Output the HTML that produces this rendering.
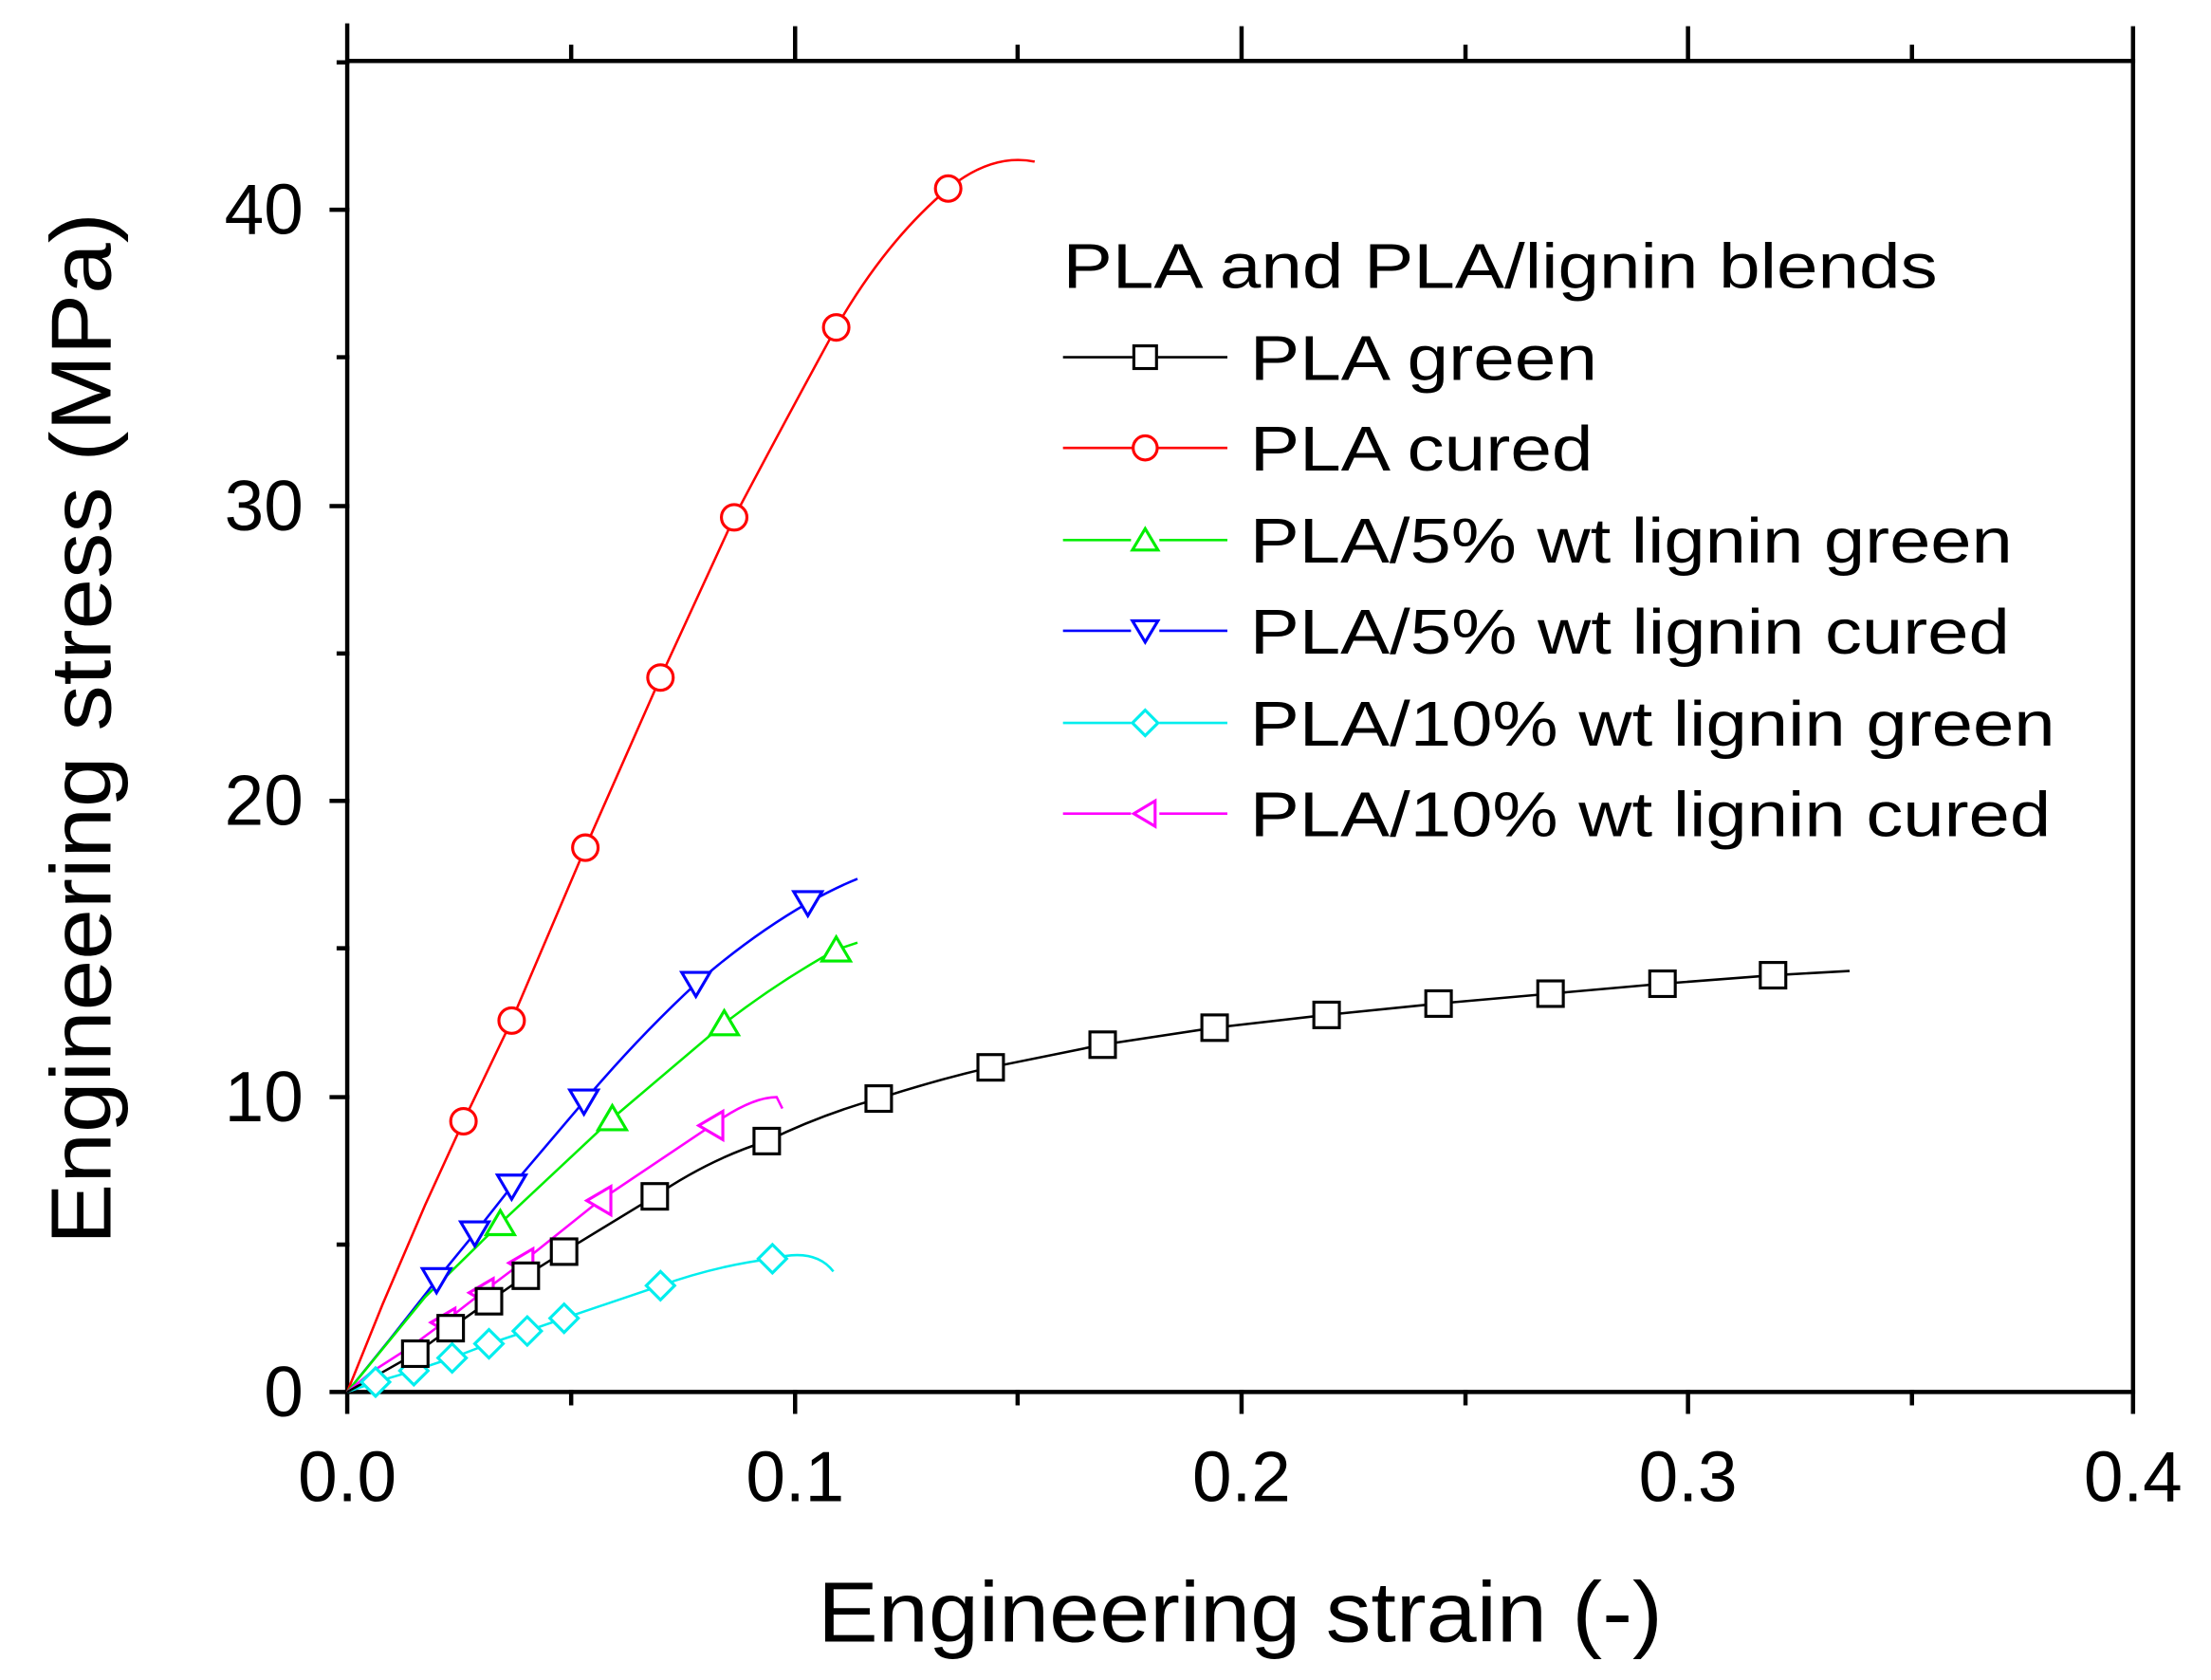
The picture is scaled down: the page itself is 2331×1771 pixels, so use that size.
<!DOCTYPE html>
<html><head><meta charset="utf-8"><style>html,body{margin:0;padding:0;background:#fff}svg{display:block}</style></head>
<body>
<svg xmlns="http://www.w3.org/2000/svg" width="2331" height="1771" viewBox="0 0 1560 1185.2" preserveAspectRatio="none" font-family="Liberation Sans, Arial, sans-serif">
<rect width="1560" height="1186" fill="#fff"/>
<g stroke="#000" stroke-width="3" fill="none" stroke-linecap="square">
<path d="M245,18 V982 H1505 V43 H245"/>
<path d="M234,982 H245 M234,774 H245 M234,565 H245 M234,357 H245 M234,148 H245 M239,878 H245 M239,669 H245 M239,461 H245 M239,252 H245 M239,44 H245"/>
<path d="M245,982 V996 M561,982 V996 M876,982 V996 M1191,982 V996 M1505,982 V996 M403,982 V990 M718,982 V990 M1034,982 V990 M1349,982 V990"/>
<path d="M561,43 V20 M876,43 V20 M1191,43 V20 M1505,43 V20 M403,43 V33 M718,43 V33 M1034,43 V33 M1349,43 V33"/>
</g>
<g font-size="50" text-anchor="end">
<text x="214" y="999">0</text><text x="214" y="791">10</text><text x="214" y="582">20</text><text x="214" y="374">30</text><text x="214" y="165">40</text>
</g>
<g font-size="50" text-anchor="middle">
<text x="245" y="1059">0.0</text><text x="561" y="1059">0.1</text><text x="876" y="1059">0.2</text><text x="1191" y="1059">0.3</text><text x="1505" y="1059">0.4</text>
</g>
<text x="577" y="1158" font-size="60" textLength="596" lengthAdjust="spacingAndGlyphs">Engineering strain (-)</text>
<text transform="translate(78,878) rotate(-90)" font-size="60" textLength="728" lengthAdjust="spacingAndGlyphs">Engineering stress (MPa)</text>

<g fill="none" stroke-width="1.7">
<path stroke="#f00" d="M245,982 L270,920 L300,850 L327,791 L361,720 L413,598 L466,478 L518,365 Q555,295 590,231 Q625,170 669,133 Q700,108 730,114"/>
<path stroke="#00f" d="M245,982 L275,945 L308,903 L335,870 L361,837 L412,777 Q450,732 491,694 Q530,660 570,637 Q590,626 605,620"/>
<path stroke="#0e0" d="M245,982 L300,915 L353,863 L432,789 L511,722 Q550,692 590,670 L605,665"/>
<path stroke="#f0f" d="M245,982 L262,968 L290,950 L313,933 L340,912 L368,891 L423,847 L502,794 Q530,774 548,774 L552,782"/>
<path stroke="#0ee" d="M245,982 L265,975 L292,967 L319,958 L345,948 L372,939 L398,930 L466,907 Q505,893 545,888 Q575,880 588,897"/>
<path stroke="#000" d="M245,982 L270,968 L293,955 L318,937 L345,918 L371,900 L398,883 L462,844 Q500,818 541,805 Q580,786 620,775 Q660,762 699,753 L778,737 L857,725 L936,716 L1015,708 L1094,701 L1173,694 L1251,688 L1305,685"/>
</g>
<g fill="#fff" stroke-width="2.1">
<g stroke="#f00">
<circle cx="327" cy="791" r="9"/><circle cx="361" cy="720" r="9"/><circle cx="413" cy="598" r="9"/><circle cx="466" cy="478" r="9"/><circle cx="518" cy="365" r="9"/><circle cx="590" cy="231" r="9"/><circle cx="669" cy="133" r="9"/>
</g>
<g stroke="#00f">
<path d="M298,895 h20 l-10,17 z M325,862 h20 l-10,17 z M351,829 h20 l-10,17 z M402,769 h20 l-10,17 z M481,686 h20 l-10,17 z M560,629 h20 l-10,17 z"/>
</g>
<g stroke="#0e0">
<path d="M343,871 h20 l-10,-17 z M422,797 h20 l-10,-17 z M501,730 h20 l-10,-17 z M580,678 h20 l-10,-17 z"/>
</g>
<g stroke="#f0f">
<path d="M304,933 l17,-10 v20 z M331,912 l17,-10 v20 z M359,891 l17,-10 v20 z M414,847 l17,-10 v20 z M493,794 l17,-10 v20 z"/>
</g>
<g stroke="#0ee">
<path d="M265,965 l10,10 l-10,10 l-10,-10 z M292,957 l10,10 l-10,10 l-10,-10 z M319,948 l10,10 l-10,10 l-10,-10 z M345,938 l10,10 l-10,10 l-10,-10 z M372,929 l10,10 l-10,10 l-10,-10 z M398,920 l10,10 l-10,10 l-10,-10 z M466,897 l10,10 l-10,10 l-10,-10 z M545,878 l10,10 l-10,10 l-10,-10 z"/>
</g>
<g stroke="#000">
<rect x="284" y="946" width="18" height="18"/><rect x="309" y="928" width="18" height="18"/><rect x="336" y="909" width="18" height="18"/><rect x="362" y="891" width="18" height="18"/><rect x="389" y="874" width="18" height="18"/><rect x="453" y="835" width="18" height="18"/><rect x="532" y="796" width="18" height="18"/><rect x="611" y="766" width="18" height="18"/><rect x="690" y="744" width="18" height="18"/><rect x="769" y="728" width="18" height="18"/><rect x="848" y="716" width="18" height="18"/><rect x="927" y="707" width="18" height="18"/><rect x="1006" y="699" width="18" height="18"/><rect x="1085" y="692" width="18" height="18"/><rect x="1164" y="685" width="18" height="18"/><rect x="1242" y="679" width="18" height="18"/>
</g>
</g>

<g font-size="45">
<text x="750" y="203" textLength="617" lengthAdjust="spacingAndGlyphs">PLA and PLA/lignin blends</text>
<text x="882" y="268" textLength="245" lengthAdjust="spacingAndGlyphs">PLA green</text>
<text x="882" y="332" textLength="242" lengthAdjust="spacingAndGlyphs">PLA cured</text>
<text x="882" y="397" textLength="538" lengthAdjust="spacingAndGlyphs">PLA/5% wt lignin green</text>
<text x="882" y="461" textLength="536" lengthAdjust="spacingAndGlyphs">PLA/5% wt lignin cured</text>
<text x="882" y="526" textLength="568" lengthAdjust="spacingAndGlyphs">PLA/10% wt lignin green</text>
<text x="882" y="590" textLength="565" lengthAdjust="spacingAndGlyphs">PLA/10% wt lignin cured</text>
</g>
<g stroke-width="1.7" fill="none">
<path stroke="#000" d="M750,252 H799 M817,252 H866"/>
<path stroke="#f00" d="M750,316 H799 M817,316 H866"/>
<path stroke="#0e0" d="M750,381 H798 M818,381 H866"/>
<path stroke="#00f" d="M750,445 H798 M818,445 H866"/>
<path stroke="#0ee" d="M750,510 H798 M818,510 H866"/>
<path stroke="#f0f" d="M750,574 H798 M818,574 H866"/>
</g>
<g fill="#fff" stroke-width="2.1">
<rect x="800" y="244" width="16" height="16" stroke="#000"/>
<circle cx="808" cy="316" r="8.5" stroke="#f00"/>
<path d="M799,388 h18 l-9,-15 z" stroke="#0e0"/>
<path d="M799,438 h18 l-9,15 z" stroke="#00f"/>
<path d="M808,501 l9,9 l-9,9 l-9,-9 z" stroke="#0ee"/>
<path d="M800,574 l15,-9 v18 z" stroke="#f0f"/>
</g>
</svg>
</body></html>
